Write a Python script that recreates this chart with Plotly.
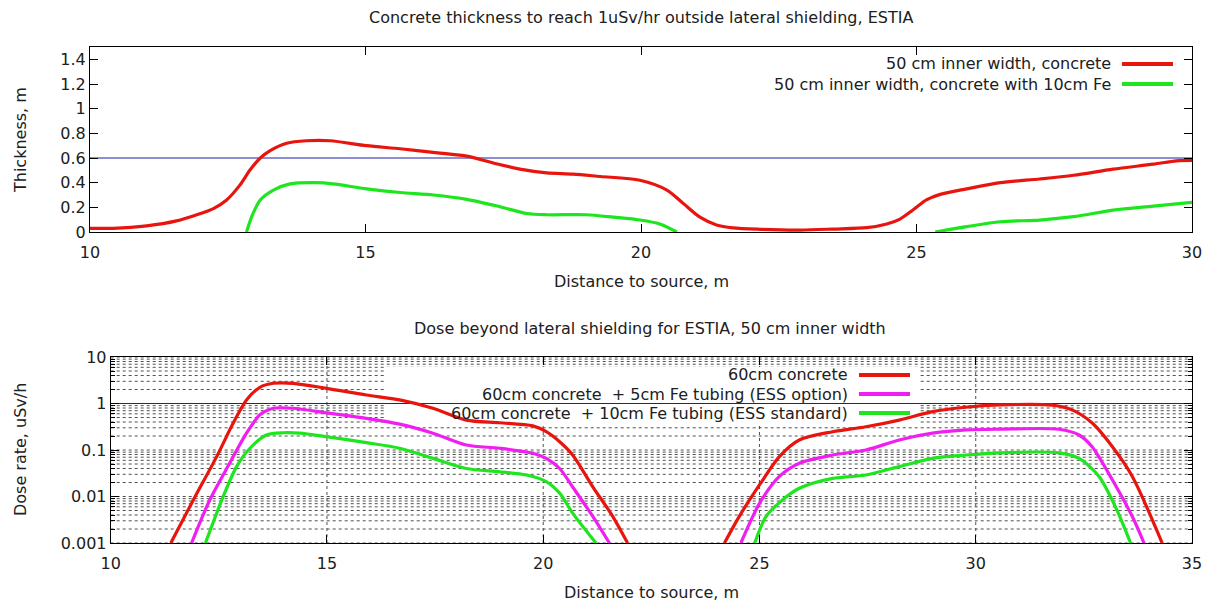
import plotly.graph_objects as go

# ---------------- data: required concrete thickness (m) vs distance (m) ----------------
thick_conc_x = [10, 10.42, 11.03, 11.57, 11.94, 12.24, 12.48, 12.72, 12.9, 13.09, 13.27, 13.57,
                13.93, 14.36, 15.02, 15.63, 16.35, 16.84, 17.32, 17.80, 18.29, 18.77, 19.26,
                19.98, 20.47, 20.77, 21.07, 21.37, 21.67, 22.16, 22.89, 23.49, 24.1, 24.46,
                24.70, 24.94, 25.18, 25.43, 25.91, 26.52, 27.24, 27.85, 28.57, 29.30, 29.72, 30]
thick_conc_y = [0.03, 0.03, 0.05, 0.09, 0.14, 0.19, 0.26, 0.38, 0.50, 0.60, 0.66, 0.72,
                0.74, 0.74, 0.70, 0.675, 0.64, 0.615, 0.56, 0.51, 0.48, 0.47, 0.45,
                0.42, 0.34, 0.23, 0.12, 0.057, 0.033, 0.022, 0.016, 0.024, 0.035, 0.065,
                0.105, 0.18, 0.26, 0.305, 0.35, 0.40, 0.43, 0.46, 0.51, 0.55, 0.577, 0.58]

thick_fe_x = [12.84, 12.95, 13.09, 13.33, 13.63, 14.11, 14.41, 15.02, 15.63, 16.23, 16.84, 17.44,
              17.93, 18.29, 19.01, 19.50, 19.98, 20.34, 20.65,
              None,
              25.34, 25.91, 26.52, 27.24, 27.85, 28.57, 29.30, 30]
thick_fe_y = [0, 0.14, 0.26, 0.34, 0.39, 0.40, 0.39, 0.35, 0.32, 0.30, 0.265, 0.205,
              0.15, 0.14, 0.14, 0.12, 0.097, 0.065, 0,
              None,
              0, 0.043, 0.083, 0.097, 0.124, 0.178, 0.21, 0.24]

thickness_limit = 0.6

# ---------------- data: dose rate (uSv/h) beyond lateral shielding ----------------
dose_conc_x = [11.39, 11.91, 12.45, 12.83, 13.14, 13.45, 13.76, 14.22, 14.99, 15.91, 16.68,
               17.45, 18.22, 18.99, 19.76, 20.07, 20.38, 20.68, 21.15, 21.61, 21.95,
               None,
               24.19, 24.53, 25.0, 25.46, 25.92, 26.69, 27.46, 28.23, 29.0, 29.77, 30.54,
               31.77, 32.24, 32.70, 33.16, 33.62, 34.31]
dose_conc_y = [0.001, 0.0084, 0.072, 0.375, 1.19, 2.23, 2.72, 2.72, 2.12, 1.52, 1.2,
               0.79, 0.44, 0.386, 0.33, 0.247, 0.15, 0.078, 0.016, 0.0037, 0.001,
               None,
               0.001, 0.0037, 0.0177, 0.072, 0.164, 0.247, 0.316, 0.44, 0.67, 0.83, 0.93,
               0.92, 0.72, 0.375, 0.117, 0.027, 0.001]

dose_fe5_x = [11.87, 12.29, 12.75, 13.14, 13.45, 13.76, 14.22, 14.99, 15.91, 16.68, 17.45,
              18.22, 18.99, 19.76, 20.07, 20.38, 20.68, 21.15, 21.53,
              None,
              24.57, 25.0, 25.46, 25.92, 26.69, 27.46, 28.23, 29.0, 29.77, 30.54, 31.92,
              32.39, 32.69, 33.16, 33.62, 33.89]
dose_fe5_y = [0.001, 0.0084, 0.052, 0.23, 0.57, 0.79, 0.79, 0.63, 0.48, 0.36, 0.23,
              0.128, 0.109, 0.085, 0.066, 0.04, 0.016, 0.0037, 0.001,
              None,
              0.001, 0.0071, 0.027, 0.052, 0.078, 0.1, 0.164, 0.23, 0.27, 0.28, 0.28,
              0.21, 0.117, 0.0227, 0.0037, 0.001]

dose_fe10_x = [12.19, 12.60, 12.91, 13.22, 13.60, 13.99, 14.37, 14.99, 15.91, 16.68, 17.45,
               18.22, 18.99, 19.61, 20.07, 20.38, 20.68, 21.22,
               None,
               24.89, 25.15, 25.53, 25.92, 26.69, 27.46, 28.23, 29.0, 29.77, 30.54, 31.92,
               32.39, 32.85, 33.23, 33.58]
dose_fe10_y = [0.001, 0.0099, 0.044, 0.109, 0.21, 0.235, 0.23, 0.193, 0.144, 0.109, 0.066,
               0.04, 0.034, 0.029, 0.021, 0.0118, 0.0044, 0.001,
               None,
               0.001, 0.0037, 0.0084, 0.015, 0.0245, 0.029, 0.044, 0.066, 0.078, 0.087, 0.087,
               0.066, 0.027, 0.006, 0.001]

dose_limit = 1.0

top_labels = ["50 cm inner width, concrete", "50 cm inner width, concrete with 10cm Fe"]
bottom_labels = ["60cm concrete", "60cm concrete  + 5cm Fe tubing (ESS option)",
                 "60cm concrete  + 10cm Fe tubing (ESS standard)"]

dose_ticks = [0.001, 0.01, 0.1, 1, 10]
dose_ticktext = ["0.001", "0.01", "0.1", "1", "10"]
thick_ticks = [0, 0.2, 0.4, 0.6, 0.8, 1.0, 1.2, 1.4]
thick_ticktext = ["0", "0.2", "0.4", "0.6", "0.8", "1", "1.2", "1.4"]
dist_grid = [15, 20, 25, 30]

# ---------------- styling ----------------
W, H = 1214, 603
RED, GREEN, MAGENTA, BLUE = "#e8150f", "#1ee61e", "#f01ef0", "#1c1ca8"
TXT = "#202020"
FONT = "DejaVu Sans"
LW = 3.2
FS = 16
GRIDCOL = "#505050"

# panel frames in pixels (left, right, top, bottom)
TOP_BOX = (90, 1192, 47, 232)
BOT_BOX = (110.7, 1192, 357, 543)


def px_x(p):
    return p / W


def px_y(p):
    return 1 - p / H


fig = go.Figure()

# top panel
fig.add_trace(go.Scatter(x=[10, 30], y=[thickness_limit, thickness_limit], mode="lines",
                         line=dict(color=BLUE, width=1), xaxis="x", yaxis="y",
                         hoverinfo="skip"))
fig.add_trace(go.Scatter(x=thick_conc_x, y=thick_conc_y, mode="lines",
                         line=dict(color=RED, width=LW, shape="spline", smoothing=0.8),
                         xaxis="x", yaxis="y", name=top_labels[0]))
fig.add_trace(go.Scatter(x=thick_fe_x, y=thick_fe_y, mode="lines", connectgaps=False,
                         line=dict(color=GREEN, width=LW, shape="spline", smoothing=0.8),
                         xaxis="x", yaxis="y", name=top_labels[1]))

# bottom panel
fig.add_trace(go.Scatter(x=[10, 35], y=[dose_limit, dose_limit], mode="lines",
                         line=dict(color=BLUE, width=1), xaxis="x2", yaxis="y2",
                         hoverinfo="skip"))
for xs, ys, col, name in [(dose_conc_x, dose_conc_y, RED, bottom_labels[0]),
                          (dose_fe5_x, dose_fe5_y, MAGENTA, bottom_labels[1]),
                          (dose_fe10_x, dose_fe10_y, GREEN, bottom_labels[2])]:
    fig.add_trace(go.Scatter(x=xs, y=ys, mode="lines", connectgaps=False,
                             line=dict(color=col, width=LW, shape="spline", smoothing=0.8),
                             xaxis="x2", yaxis="y2", name=name))

axis_common = dict(showline=True, linecolor="black", linewidth=1, mirror="ticks",
                   ticks="inside", ticklen=8, tickcolor="black", tickwidth=1,
                   tickfont=dict(family=FONT, size=FS, color=TXT), zeroline=False,
                   automargin=False, showgrid=False)

minor_vals = [m * 10.0 ** e for e in range(-3, 1) for m in range(2, 10)]

fig.update_layout(
    width=W, height=H, margin=dict(l=0, r=0, t=0, b=0, pad=0, autoexpand=False),
    paper_bgcolor="white", plot_bgcolor="white", showlegend=False,
    xaxis=dict(domain=[px_x(TOP_BOX[0]), px_x(TOP_BOX[1])], range=[10, 30], dtick=5, tick0=10,
               anchor="y", ticklabelstandoff=6, **axis_common),
    yaxis=dict(domain=[px_y(TOP_BOX[3]), px_y(TOP_BOX[2])], range=[0, 1.5], tickmode="array",
               tickvals=thick_ticks, ticktext=thick_ticktext, anchor="x", **axis_common),
    xaxis2=dict(domain=[px_x(BOT_BOX[0]), px_x(BOT_BOX[1])], range=[10, 35], dtick=5, tick0=10,
                anchor="y2", ticklabelstandoff=6, **axis_common),
    yaxis2=dict(domain=[px_y(BOT_BOX[3]), px_y(BOT_BOX[2])], type="log", range=[-3, 1],
                tickmode="array", tickvals=dose_ticks, ticktext=dose_ticktext,
                minor=dict(tickmode="array", tickvals=minor_vals, ticks="inside",
                           ticklen=4, tickcolor="black", showgrid=False),
                anchor="x2", **axis_common),
)

annotations = []
shapes = []


def text(x, y, s, size=FS, xanchor="center", angle=0):
    annotations.append(dict(x=px_x(x), y=px_y(y), xref="paper", yref="paper", text=s,
                            showarrow=False, xanchor=xanchor, yanchor="middle",
                            textangle=angle, font=dict(family=FONT, size=size, color=TXT)))


# dotted grid of the dose panel, drawn under the traces
grid_line = dict(color=GRIDCOL, width=1, dash="dot")
for v in dose_ticks + minor_vals:
    shapes.append(dict(type="line", xref="x2 domain", yref="y2", x0=0, x1=1, y0=v, y1=v,
                       line=grid_line, layer="below"))
for v in dist_grid:
    shapes.append(dict(type="line", xref="x2", yref="y2 domain", x0=v, x1=v, y0=0, y1=1,
                       line=grid_line, layer="below"))

# opaque key box of the dose panel: covers the grid, stays under the curves
bw = BOT_BOX[1] - BOT_BOX[0]
bh = BOT_BOX[3] - BOT_BOX[2]
shapes.append(dict(type="rect", xref="x2 domain", yref="y2 domain",
                   x0=(385 - BOT_BOX[0]) / bw, x1=(918 - BOT_BOX[0]) / bw,
                   y0=(BOT_BOX[3] - 424) / bh, y1=(BOT_BOX[3] - 367) / bh,
                   fillcolor="white", line=dict(width=0), layer="below"))

# titles and axis labels
text(641, 18, "Concrete thickness to reach 1uSv/hr outside lateral shielding, ESTIA")
text(641, 281, "Distance to source, m")
text(20, 140, "Thickness, m", angle=-90)
text(650, 328, "Dose beyond lateral shielding for ESTIA, 50 cm inner width")
text(651, 592, "Distance to source, m")
text(20, 450, "Dose rate, uSv/h", angle=-90)

# key: top panel
for i, (lab, col) in enumerate(zip(top_labels, [RED, GREEN])):
    yy = 64 + 20 * i
    text(1113, yy, lab, xanchor="right")
    shapes.append(dict(type="line", xref="paper", yref="paper", x0=px_x(1122), x1=px_x(1173),
                       y0=px_y(yy), y1=px_y(yy), line=dict(color=col, width=4)))

# key: bottom panel
for i, (lab, col) in enumerate(zip(bottom_labels, [RED, MAGENTA, GREEN])):
    yy = 375 + 19 * i
    text(850, yy, lab, xanchor="right")
    shapes.append(dict(type="line", xref="paper", yref="paper", x0=px_x(859), x1=px_x(910),
                       y0=px_y(yy), y1=px_y(yy), line=dict(color=col, width=4)))

fig.update_layout(annotations=annotations, shapes=shapes)
fig.write_html("out.html")
